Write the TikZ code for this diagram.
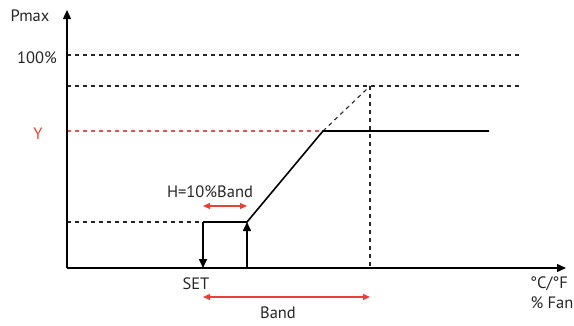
\documentclass[tikz,border=0pt]{standalone}
\usepackage{fontspec}
\setmainfont{PT Sans}
\usetikzlibrary{arrows.meta}
\definecolor{bandred}{HTML}{E8413A}
\tikzset{
  guide/.style={dash pattern=on 4pt off 4pt, line width=1.1pt, draw=black!85},
  curve/.style={line width=1.6pt},
  redarrow/.style={bandred, line width=1.2pt, {Triangle[width=6pt,length=7pt]}-{Triangle[width=6pt,length=7pt]}},
  lbl/.style={font=\fontsize{16.5}{19}\selectfont, text=black!85, inner sep=0pt}
}
\begin{document}
\begin{tikzpicture}[x=1pt,y=-1pt]
	\useasboundingbox (0,0) rectangle (574,325);
	% guide lines
	\draw[guide] (67,55) -- (520,55);
	\draw[guide] (67,86) -- (520,86);
	\draw[guide, draw=bandred!90] (67,131) -- (323,131);
	\draw[guide] (67,222) -- (203,222);
	\draw[guide] (323,131) -- (370,86);
	\draw[guide] (370,86) -- (370,268);
	% axes
	\draw[line width=1.3pt, -{Triangle[width=8pt,length=9pt]}] (67,268) -- (67,10);
	\draw[line width=1.3pt, -{Triangle[width=8pt,length=9pt]}] (67,268) -- (566,268);
	% characteristic
	\draw[curve] (203,222) -- (247,222) -- (323,131) -- (489,131);
	\draw[curve, -{Triangle[width=8pt,length=9pt]}] (203,222) -- (203,268);
	\draw[curve, -{Triangle[width=8pt,length=9pt]}] (247,268) -- (247,222);
	% band arrows
	\draw[redarrow] (203,206) -- (247,206);
	\draw[redarrow] (203,297) -- (370,297);
	% labels
	\node[lbl] (pmax) at (30,16) {Pmax};
	\node[lbl] (full) at (37,58) {100\%};
	\node[lbl, text=bandred] (ylev) at (38,134) {Y};
	\node[lbl] (hyst) at (210,192) {H=10\%Band};
	\node[lbl] (setp) at (196,284) {SET};
	\node[lbl] (band) at (278,313) {Band};
	\node[lbl] (unit) at (549,284) {°C/°F};
	\node[lbl] (fan) at (552,303) {\% Fan};
\end{tikzpicture}
\end{document}
